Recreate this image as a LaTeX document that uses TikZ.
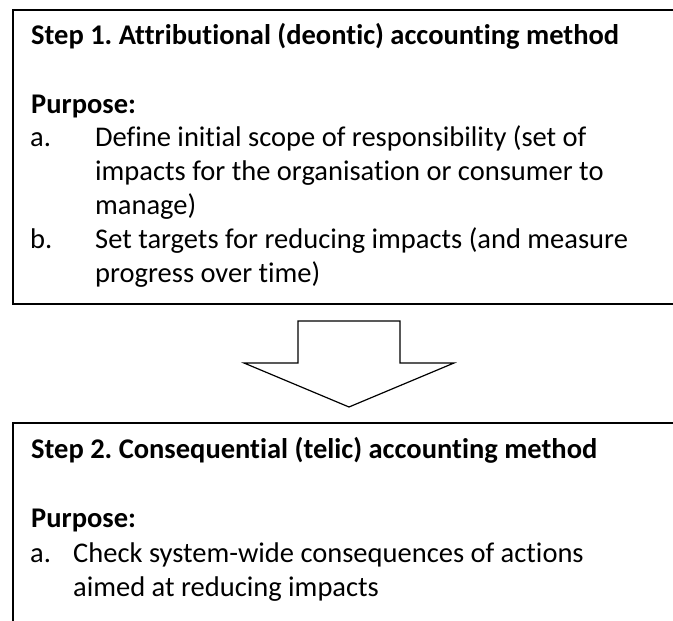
\documentclass[tikz,border=0pt]{standalone}
\usepackage{fontspec}
\setmainfont{Carlito}[Ligatures={NoCommon}, RawFeature={-liga}]
\frenchspacing
\begin{document}
\begin{tikzpicture}[x=1pt,y=-1pt,
  txt/.style={anchor=base west, inner sep=0pt, font=\fontsize{28.5}{34}\selectfont},
  ttl/.style={anchor=base west, inner sep=0pt, font=\fontsize{28.5}{34}\selectfont\bfseries},
  boxline/.style={line width=1.5pt, black},
  blockarrow/.style={line width=1.2pt, black, fill=white, line join=miter}]
\useasboundingbox (0,0) rectangle (673,621);
\clip (0,0) rectangle (673,621);
% Box 1
\draw[boxline] (690,10) -- (13,10) -- (13,304) -- (690,304);
\node[ttl] (t1) at (31,45) {Step 1. Attributional (deontic) accounting method};
\node[ttl] (p1) at (31,113) {Purpose:};
\node[txt] (a1) at (30,146) {a.};
\node[txt] (a1l1) at (95,146) {Define initial scope of responsibility (set of};
\node[txt] (a1l2) at (95,180) {impacts for the organisation or consumer to};
\node[txt] (a1l3) at (95,214) {manage)};
\node[txt] (b1) at (30,248) {b.};
\node[txt] (b1l1) at (95,248) {Set targets for reducing impacts (and measure};
\node[txt] (b1l2) at (95,282) {progress over time)};
% Arrow
\draw[blockarrow] (298,321) -- (400,321) -- (400,363) -- (454,363) -- (349,407) -- (244,363) -- (298,363) -- cycle;
% Box 2
\draw[boxline] (690,423) -- (13,423) -- (13,640);
\node[ttl] (t2) at (31,458) {Step 2. Consequential (telic) accounting method};
\node[ttl] (p2) at (31,527) {Purpose:};
\node[txt] (a2) at (30,562) {a.};
\node[txt] (a2l1) at (73,562) {Check system-wide consequences of actions};
\node[txt] (a2l2) at (73,596) {aimed at reducing impacts};
\end{tikzpicture}
\end{document}
